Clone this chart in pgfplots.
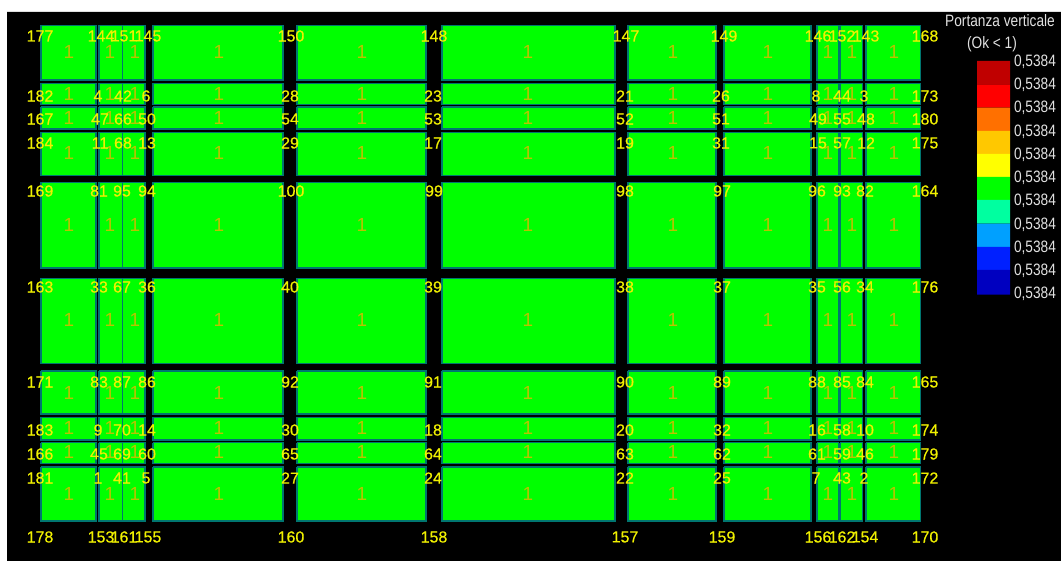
\documentclass[border=0pt]{standalone}
\usepackage{fontspec}
\setmainfont{Liberation Sans}
\newfontfamily\numfont[FakeBold=0.5]{Liberation Sans}
\newfontfamily\narrowfont[FakeStretch=0.83]{Liberation Sans}
\usepackage{pgfplots}
\pgfplotsset{compat=1.18}

\definecolor{cellfill}{RGB}{0,255,0}
\definecolor{celledge}{RGB}{0,118,112}
\definecolor{numcol}{RGB}{240,240,0}
\definecolor{onecol}{RGB}{185,195,0}
\definecolor{textcol}{RGB}{225,225,225}
\definecolor{c1}{RGB}{192,0,0}
\definecolor{c2}{RGB}{255,0,0}
\definecolor{c3}{RGB}{255,112,0}
\definecolor{c4}{RGB}{255,200,0}
\definecolor{c5}{RGB}{255,255,0}
\definecolor{c6}{RGB}{0,255,0}
\definecolor{c7}{RGB}{0,255,160}
\definecolor{c8}{RGB}{0,160,255}
\definecolor{c9}{RGB}{0,32,255}
\definecolor{c10}{RGB}{0,0,192}

\begin{document}
\begin{tikzpicture}
\begin{axis}[
    width=1061pt, height=561pt, scale only axis,
    xmin=0, xmax=1061, ymin=0, ymax=561, y dir=reverse,
    axis lines=none, clip=false,
    point meta=explicit symbolic,
    lbl/.style={only marks, mark=none, nodes near coords,
        nodes near coords align={anchor=center},
        every node near coord/.append style={inner sep=0pt, font=#1}},
]
% page and black background
\addplot[fill=white, draw=none] coordinates {(0,0)(1061,0)(1061,561)(0,561)(0,0)};
\addplot[fill=black, draw=none] coordinates {(7,12)(1061,12)(1061,561)(7,561)(7,12)};

% cells: column edges x columns, row edges x rows
\foreach \xa/\xb in {41/96,99/122.5,122.5/145,153/283,297/426,442/615,628/716,724/811,817/838.5,840/862.5,866/920.5}{
  \foreach \ya/\yb in {25.5/80,83.5/104.5,107/129,132.5/175.5,182.5/268,278.5/363.5,371/414,417.5/440,442.5/463.5,467/521}{
    \edef\temp{\noexpand\addplot[fill=cellfill, draw=celledge, line width=1.5pt]
      coordinates {(\xa,\ya)(\xb,\ya)(\xb,\yb)(\xa,\yb)(\xa,\ya)};}
    \temp
  }
}

% colour scale
\foreach \ya/\yb/\c in {61/84.3/c1,84.3/107.7/c2,107.7/131/c3,131/154/c4,154/177/c5,177/200/c6,200/223.7/c7,223.7/247/c8,247/270/c9,270/294.7/c10}{
  \edef\temp{\noexpand\addplot[fill=\c, draw=none]
    coordinates {(977,\ya)(1010,\ya)(1010,\yb)(977,\yb)(977,\ya)};}
  \temp
}

% value inside each cell
\addplot[lbl={\fontsize{19}{19}\selectfont}, every node near coord/.append style={text=onecol}] coordinates {
 (69,52)[1] (110,52)[1] (135,52)[1] (219,52)[1] (362,52)[1] (528,52)[1] (673,52)[1] (768,52)[1] (828,52)[1] (852,52)[1] (894,52)[1]
 (69,94)[1] (110,94)[1] (135,94)[1] (219,94)[1] (362,94)[1] (528,94)[1] (673,94)[1] (768,94)[1] (828,94)[1] (852,94)[1] (894,94)[1]
 (69,118)[1] (110,118)[1] (135,118)[1] (219,118)[1] (362,118)[1] (528,118)[1] (673,118)[1] (768,118)[1] (828,118)[1] (852,118)[1] (894,118)[1]
 (69,153)[1] (110,153)[1] (135,153)[1] (219,153)[1] (362,153)[1] (528,153)[1] (673,153)[1] (768,153)[1] (828,153)[1] (852,153)[1] (894,153)[1]
 (69,225)[1] (110,225)[1] (135,225)[1] (219,225)[1] (362,225)[1] (528,225)[1] (673,225)[1] (768,225)[1] (828,225)[1] (852,225)[1] (894,225)[1]
 (69,320)[1] (110,320)[1] (135,320)[1] (219,320)[1] (362,320)[1] (528,320)[1] (673,320)[1] (768,320)[1] (828,320)[1] (852,320)[1] (894,320)[1]
 (69,393)[1] (110,393)[1] (135,393)[1] (219,393)[1] (362,393)[1] (528,393)[1] (673,393)[1] (768,393)[1] (828,393)[1] (852,393)[1] (894,393)[1]
 (69,428)[1] (110,428)[1] (135,428)[1] (219,428)[1] (362,428)[1] (528,428)[1] (673,428)[1] (768,428)[1] (828,428)[1] (852,428)[1] (894,428)[1]
 (69,452)[1] (110,452)[1] (135,452)[1] (219,452)[1] (362,452)[1] (528,452)[1] (673,452)[1] (768,452)[1] (828,452)[1] (852,452)[1] (894,452)[1]
 (69,494)[1] (110,494)[1] (135,494)[1] (219,494)[1] (362,494)[1] (528,494)[1] (673,494)[1] (768,494)[1] (828,494)[1] (852,494)[1] (894,494)[1]
};

% node numbers
\addplot[lbl={\numfont\fontsize{16}{16}\selectfont}, every node near coord/.append style={text=numcol}] coordinates {
 (40,36)[177] (101,36)[144] (124,36)[151] (148,36)[145] (291,36)[150] (434,36)[148] (626,36)[147] (724,36)[149] (818,36)[146] (842,36)[152] (866,36)[143] (925,36)[168]
 (40,96)[182] (98,96)[4] (123,96)[42] (146,96)[6] (290,96)[28] (433,96)[23] (625,96)[21] (721,96)[26] (816,96)[8] (842,96)[44] (864,96)[3] (925,96)[173]
 (40,119)[167] (100,119)[47] (123,119)[66] (147,119)[50] (290,119)[54] (433,119)[53] (625,119)[52] (721,119)[51] (818,119)[49] (842,119)[55] (866,119)[48] (925,119)[180]
 (40,143)[184] (100,143)[11] (123,143)[68] (147,143)[13] (290,143)[29] (433,143)[17] (625,143)[19] (721,143)[31] (818,143)[15] (842,143)[57] (866,143)[12] (925,143)[175]
 (40,191)[169] (99,191)[81] (122,191)[95] (147,191)[94] (291,191)[100] (434,191)[99] (625,191)[98] (722,191)[97] (817,191)[96] (842,191)[93] (865,191)[82] (925,191)[164]
 (40,287)[163] (99,287)[33] (122,287)[67] (147,287)[36] (290,287)[40] (433,287)[39] (625,287)[38] (722,287)[37] (817,287)[35] (842,287)[56] (865,287)[34] (925,287)[176]
 (40,382)[171] (99,382)[83] (122,382)[87] (147,382)[86] (290,382)[92] (433,382)[91] (625,382)[90] (722,382)[89] (817,382)[88] (842,382)[85] (865,382)[84] (925,382)[165]
 (40,430)[183] (98,430)[9] (122,430)[70] (147,430)[14] (290,430)[30] (433,430)[18] (625,430)[20] (722,430)[32] (817,430)[16] (842,430)[58] (865,430)[10] (925,430)[174]
 (40,454)[166] (99,454)[45] (122,454)[69] (147,454)[60] (290,454)[65] (433,454)[64] (625,454)[63] (722,454)[62] (817,454)[61] (842,454)[59] (865,454)[46] (925,454)[179]
 (40,478)[181] (98,478)[1] (122,478)[41] (146,478)[5] (290,478)[27] (433,478)[24] (625,478)[22] (722,478)[25] (816,478)[7] (842,478)[43] (864,478)[2] (925,478)[172]
 (40,537)[178] (101,537)[153] (124,537)[161] (148,537)[155] (291,537)[160] (434,537)[158] (625,537)[157] (722,537)[159] (818,537)[156] (842,537)[162] (865,537)[154] (925,537)[170]
};

% colour scale numbers
\addplot[lbl={\narrowfont\fontsize{16.5}{16.5}\selectfont}, every node near coord/.append style={text=textcol}] coordinates {
 (1035,62)[{0,5384}] (1035,85)[{0,5384}] (1035,108)[{0,5384}] (1035,132)[{0,5384}] (1035,155)[{0,5384}] (1035,178)[{0,5384}]
 (1035,201)[{0,5384}] (1035,225)[{0,5384}] (1035,248)[{0,5384}] (1035,271)[{0,5384}] (1035,294)[{0,5384}]
};

\node[text=textcol, inner sep=0pt, font=\narrowfont\fontsize{16.5}{17}\selectfont] at (axis cs:1000,21) {Portanza verticale};
\node[text=textcol, inner sep=0pt, font=\narrowfont\fontsize{16.5}{17}\selectfont] at (axis cs:992,44) {(Ok < 1)};
\end{axis}
\end{tikzpicture}
\end{document}
